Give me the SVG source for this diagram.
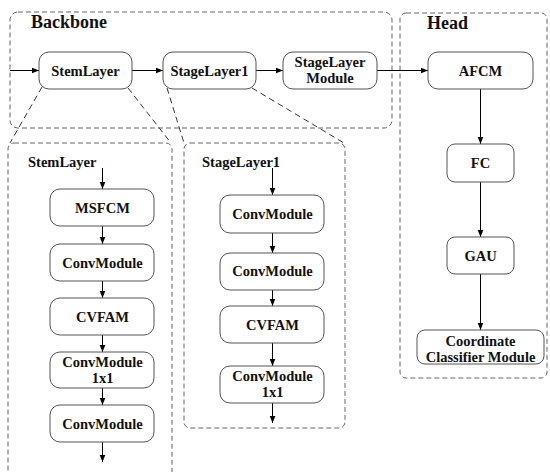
<svg xmlns="http://www.w3.org/2000/svg" width="550" height="472" viewBox="0 0 550 472" font-family="'Liberation Serif', 'DejaVu Serif', serif">
  <defs>
    <marker id="arrow" viewBox="0 0 10 10" refX="10" refY="5" markerWidth="7" markerHeight="7" markerUnits="userSpaceOnUse" orient="auto">
      <path d="M0,1 L10,5 L0,9 z" fill="#000"/>
    </marker>
  </defs>
  <style>
    text { font-family: 'Liberation Serif', 'DejaVu Serif', serif; font-weight: bold; fill: #111; }
    .group { fill: none; stroke: #666; stroke-width: 1; stroke-dasharray: 5 3; }
    .guide { fill: none; stroke: #333; stroke-width: 1; stroke-dasharray: 6 4; }
    .node rect { fill: #fff; stroke: #555; stroke-width: 1; }
    .node text { font-size: 14.5px; text-anchor: middle; }
    .label { font-size: 14.5px; }
    .title { font-size: 18px; }
    .edge { fill: none; stroke: #000; stroke-width: 1; marker-end: url(#arrow); }
  </style>
  <rect width="550" height="472" fill="#fff"/>

  <!-- container boxes -->
  <g id="containers">
    <rect class="group" x="10" y="12" width="382" height="116" rx="8"/>
    <text class="title" x="31" y="28">Backbone</text>
    <rect class="group" x="400" y="13" width="147" height="365" rx="6"/>
    <text class="title" x="427" y="29">Head</text>
    <rect class="group" x="8" y="143" width="164" height="335" rx="6"/>
    <text class="label" x="28" y="167">StemLayer</text>
    <rect class="group" x="184" y="143" width="161" height="285" rx="6"/>
    <text class="label" x="202" y="167">StageLayer1</text>
  </g>

  <!-- expansion guides -->
  <g id="guides">
    <line class="guide" x1="42" y1="87" x2="10" y2="143"/>
    <line class="guide" x1="128" y1="88" x2="171" y2="143"/>
    <line class="guide" x1="167" y1="88" x2="184" y2="143"/>
    <line class="guide" x1="252" y1="88" x2="344" y2="143"/>
  </g>

  <!-- connectors -->
  <g id="connectors">
    <line class="edge" x1="10" y1="70.5" x2="39" y2="70.5"/>
    <line class="edge" x1="132" y1="70.5" x2="163" y2="70.5"/>
    <line class="edge" x1="256" y1="70.5" x2="283" y2="70.5"/>
    <line class="edge" x1="377" y1="70.5" x2="428" y2="70.5"/>
    <line class="edge" x1="480.5" y1="89" x2="480.5" y2="144"/>
    <line class="edge" x1="480.5" y1="182" x2="480.5" y2="237"/>
    <line class="edge" x1="480.5" y1="274" x2="480.5" y2="330"/>

    <line class="edge" x1="102.5" y1="168" x2="102.5" y2="189"/>
    <line class="edge" x1="102.5" y1="226" x2="102.5" y2="244"/>
    <line class="edge" x1="102.5" y1="281" x2="102.5" y2="298"/>
    <line class="edge" x1="102.5" y1="335" x2="102.5" y2="352"/>
    <line class="edge" x1="102.5" y1="388" x2="102.5" y2="405"/>
    <line class="edge" x1="102.5" y1="442" x2="102.5" y2="462"/>

    <line class="edge" x1="272.5" y1="168" x2="272.5" y2="195"/>
    <line class="edge" x1="272.5" y1="233" x2="272.5" y2="253"/>
    <line class="edge" x1="272.5" y1="290" x2="272.5" y2="306"/>
    <line class="edge" x1="272.5" y1="343" x2="272.5" y2="366"/>
    <line class="edge" x1="272.5" y1="403" x2="272.5" y2="423"/>
  </g>

  <!-- backbone nodes -->
  <g id="stem-layer" class="node">
    <rect x="39" y="52" width="93" height="37" rx="10"/>
    <text x="85.5" y="75.5">StemLayer</text>
  </g>
  <g id="stage-layer1" class="node">
    <rect x="163" y="52" width="93" height="37" rx="10"/>
    <text x="209.5" y="75.5">StageLayer1</text>
  </g>
  <g id="stage-layer-module" class="node">
    <rect x="283" y="52" width="94" height="37" rx="10"/>
    <text x="330" y="67">StageLayer</text>
    <text x="330" y="83">Module</text>
  </g>

  <!-- head nodes -->
  <g id="afcm" class="node">
    <rect x="428" y="52" width="105" height="37" rx="10"/>
    <text x="480.5" y="75.5">AFCM</text>
  </g>
  <g id="fc" class="node">
    <rect x="447" y="144" width="67" height="38" rx="8"/>
    <text x="480.5" y="168">FC</text>
  </g>
  <g id="gau" class="node">
    <rect x="447" y="237" width="67" height="37" rx="8"/>
    <text x="480.5" y="260.5">GAU</text>
  </g>
  <g id="coordinate-classifier" class="node">
    <rect x="417" y="330" width="127" height="34" rx="8"/>
    <text x="480.5" y="346">Coordinate</text>
    <text x="480.5" y="362">Classifier Module</text>
  </g>

  <!-- stem layer detail -->
  <g id="stem-msfcm" class="node">
    <rect x="50" y="189" width="104" height="37" rx="10"/>
    <text x="102.5" y="212.5">MSFCM</text>
  </g>
  <g id="stem-conv1" class="node">
    <rect x="50" y="244" width="104" height="37" rx="10"/>
    <text x="102.5" y="267.5">ConvModule</text>
  </g>
  <g id="stem-cvfam" class="node">
    <rect x="50" y="298" width="104" height="37" rx="10"/>
    <text x="102.5" y="321.5">CVFAM</text>
  </g>
  <g id="stem-conv1x1" class="node">
    <rect x="50" y="352" width="104" height="36" rx="10"/>
    <text x="102.5" y="367">ConvModule</text>
    <text x="102.5" y="383">1x1</text>
  </g>
  <g id="stem-conv2" class="node">
    <rect x="50" y="405" width="104" height="37" rx="10"/>
    <text x="102.5" y="428.5">ConvModule</text>
  </g>

  <!-- stage layer 1 detail -->
  <g id="stage-conv1" class="node">
    <rect x="220" y="195" width="104" height="38" rx="10"/>
    <text x="272.5" y="218.5">ConvModule</text>
  </g>
  <g id="stage-conv2" class="node">
    <rect x="220" y="253" width="104" height="37" rx="10"/>
    <text x="272.5" y="276">ConvModule</text>
  </g>
  <g id="stage-cvfam" class="node">
    <rect x="220" y="306" width="104" height="37" rx="10"/>
    <text x="272.5" y="329.5">CVFAM</text>
  </g>
  <g id="stage-conv1x1" class="node">
    <rect x="220" y="366" width="104" height="37" rx="10"/>
    <text x="272.5" y="381">ConvModule</text>
    <text x="272.5" y="397">1x1</text>
  </g>
</svg>
